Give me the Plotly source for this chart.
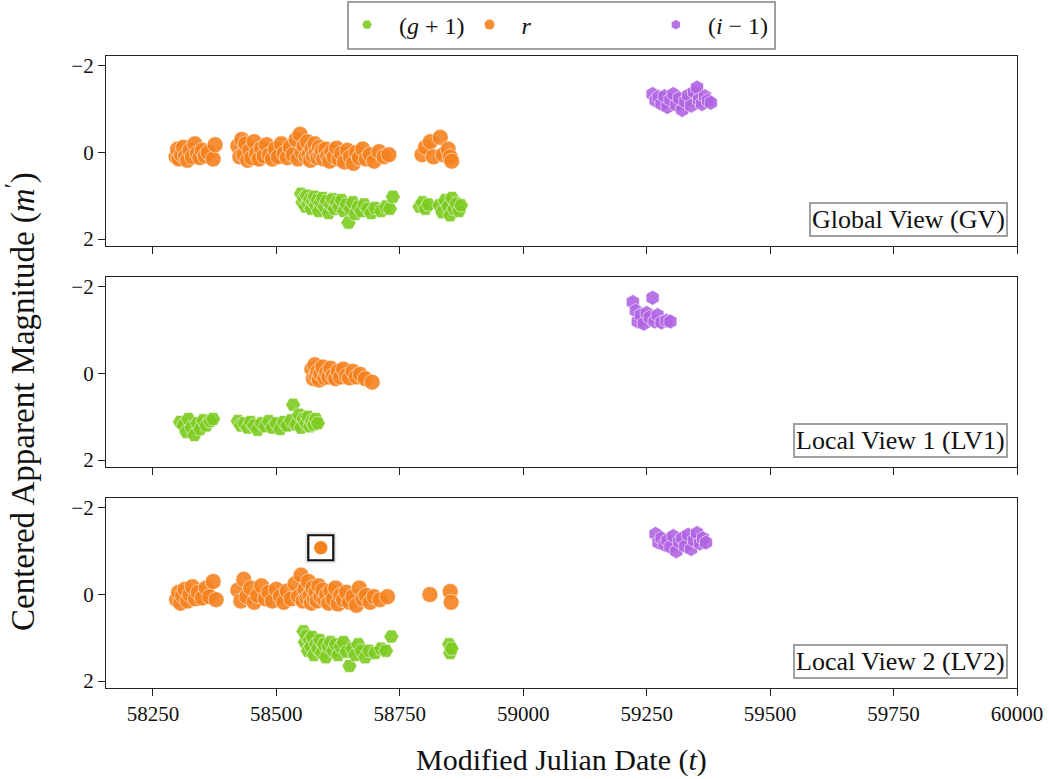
import plotly.graph_objects as go

# ---------------- data ----------------
# Panel 1: Global View (GV)
gv_r_t = [58297, 58300, 58303, 58308, 58312, 58316, 58320, 58325, 58330, 58335, 58340, 58345, 58350, 58356, 58362, 58372, 58376,
          58422, 58426, 58430, 58434, 58438, 58442, 58446, 58450, 58455, 58460, 58465, 58470, 58475, 58480, 58486, 58492, 58498,
          58504, 58510, 58516, 58522, 58528, 58534, 58540, 58544, 58548, 58552, 58556, 58560, 58563, 58566, 58569, 58572, 58575,
          58578, 58581, 58584, 58587, 58590, 58593, 58596, 58600, 58604, 58608, 58612, 58617, 58622, 58627, 58632, 58638, 58644,
          58650, 58656, 58662, 58668, 58675, 58682, 58690, 58698, 58708, 58718, 58728,
          58795, 58802, 58812, 58818, 58832, 58838, 58848, 58852, 58855]
gv_r_m = [0.10, -0.08, 0.15, 0.05, -0.12, 0.08, 0.18, -0.05, 0.10, -0.20, 0.02, 0.12, -0.05, 0.08, 0.00, 0.15, -0.18,
          -0.15, 0.10, -0.30, 0.05, -0.20, 0.18, -0.05, 0.12, -0.25, 0.02, 0.15, -0.10, 0.08, -0.18, 0.05, 0.15, -0.08,
          0.10, -0.20, 0.02, 0.12, -0.12, 0.05, -0.30, 0.15, -0.42, 0.00, -0.15, 0.10, -0.25, 0.05, 0.18, -0.10, 0.08,
          -0.20, 0.00, 0.12, -0.12, 0.05, -0.05, 0.15, -0.08, 0.08, 0.20, -0.02, 0.10, -0.10, 0.15, 0.02, 0.22, -0.05,
          0.10, 0.25, 0.00, 0.12, -0.08, 0.15, 0.05, 0.20, -0.02, 0.10, 0.05,
          0.05, -0.12, -0.25, 0.10, -0.35, 0.05, -0.08, 0.10, 0.20]
gv_g_t = [58550, 58553, 58556, 58559, 58562, 58565, 58568, 58571, 58574, 58577, 58580, 58583, 58586, 58590, 58594, 58598,
          58602, 58606, 58610, 58614, 58618, 58622, 58627, 58632, 58637, 58642, 58646, 58650, 58655, 58660, 58666, 58672,
          58678, 58685, 58692, 58700, 58712, 58722, 58730, 58736,
          58790, 58796, 58802, 58808, 58830, 58836, 58842, 58848, 58852, 58856, 58860, 58865, 58870, 58874]
gv_g_m = [0.95, 1.15, 1.05, 1.25, 1.00, 1.18, 1.08, 1.30, 1.12, 1.02, 1.22, 1.10, 1.35, 1.15, 1.05, 1.25,
          1.12, 1.40, 1.20, 1.08, 1.30, 1.15, 1.25, 1.10, 1.35, 1.20, 1.62, 1.30, 1.15, 1.42, 1.25, 1.35,
          1.20, 1.30, 1.40, 1.28, 1.35, 1.25, 1.30, 1.02,
          1.25, 1.15, 1.30, 1.20, 1.22, 1.38, 1.10, 1.25, 1.45, 1.05, 1.30, 1.18, 1.35, 1.22]
gv_i_t = [59262, 59268, 59274, 59280, 59286, 59292, 59298, 59304, 59310, 59316, 59322, 59328, 59334, 59340, 59346,
          59352, 59356, 59362, 59368, 59374, 59380]
gv_i_m = [-1.35, -1.20, -1.28, -1.12, -1.30, -1.05, -1.22, -1.35, -1.10, -1.25, -0.98, -1.18, -1.32, -1.08, -1.40,
          -1.50, -1.22, -1.12, -1.30, -1.20, -1.15]

# Panel 2: Local View 1 (LV1)
lv1_g_t = [58305, 58312, 58318, 58322, 58328, 58334, 58340, 58346, 58352, 58358, 58366, 58372,
           58422, 58428, 58435, 58442, 58448, 58455, 58462, 58470, 58478, 58485, 58492, 58500, 58508, 58515,
           58522, 58530, 58534, 58540, 58546, 58550, 58555, 58560, 58564, 58568, 58572, 58576, 58580, 58584]
lv1_g_m = [1.12, 1.20, 1.35, 1.05, 1.25, 1.42, 1.15, 1.28, 1.08, 1.20, 1.10, 1.05,
           1.10, 1.20, 1.15, 1.25, 1.12, 1.20, 1.30, 1.15, 1.22, 1.10, 1.25, 1.15, 1.28, 1.12,
           1.20, 1.08, 0.72, 1.18, 0.95, 1.25, 1.05, 1.15, 1.00, 1.22, 1.10, 1.18, 1.05, 1.15]
lv1_r_t = [58572, 58575, 58578, 58581, 58584, 58587, 58590, 58594, 58598, 58602, 58606, 58610, 58615, 58620,
           58625, 58630, 58636, 58642, 58648, 58655, 58662, 58670, 58680, 58694]
lv1_r_m = [-0.10, 0.12, -0.20, 0.05, -0.05, 0.15, 0.00, -0.15, 0.10, -0.02, 0.08, -0.12, 0.05, 0.12,
           -0.05, 0.08, -0.10, 0.05, 0.10, -0.05, 0.08, 0.02, 0.12, 0.20]
lv1_i_t = [59222, 59228, 59232, 59238, 59244, 59250, 59256, 59262, 59266, 59272, 59280, 59290, 59298]
lv1_i_m = [-1.65, -1.45, -1.20, -1.35, -1.15, -1.40, -1.30, -1.75, -1.20, -1.35, -1.18, -1.22, -1.20]

# Panel 3: Local View 2 (LV2)
lv2_r_t = [58298, 58302, 58306, 58310, 58315, 58320, 58325, 58330, 58336, 58342, 58350, 58358, 58365, 58372, 58378,
           58422, 58428, 58434, 58440, 58448, 58455, 58462, 58470, 58478, 58485, 58492, 58500, 58508, 58515, 58522,
           58530, 58538, 58545, 58550, 58554, 58558, 58562, 58565, 58568, 58571, 58574, 58577, 58580, 58583, 58586,
           58590, 58594, 58598, 58602, 58606, 58610, 58615, 58620, 58625, 58630, 58636, 58642, 58648, 58655, 58662,
           58668, 58675, 58682, 58690, 58698, 58710, 58725,
           58811, 58852, 58854]
lv2_r_m = [0.12, -0.05, 0.20, 0.02, -0.12, 0.15, 0.00, -0.18, 0.10, -0.05, 0.08, -0.15, 0.05, -0.30, 0.12,
           -0.10, 0.15, -0.35, 0.05, -0.15, 0.18, 0.02, -0.20, 0.10, -0.05, 0.15, -0.12, 0.05, 0.18, -0.08,
           0.10, -0.25, 0.05, -0.45, 0.15, -0.12, 0.08, -0.30, 0.02, 0.20, -0.15, 0.10, -0.05, 0.15, -0.20,
           0.05, -0.10, 0.12, 0.00, 0.20, -0.08, 0.10, -0.15, 0.22, 0.02, 0.12, -0.05, 0.18, 0.05, 0.25,
           -0.15, 0.10, 0.02, 0.18, 0.05, 0.12, 0.05,
           0.00, -0.07, 0.18]
lv2_outlier_t = [58590]
lv2_outlier_m = [-1.08]
lv2_g_t = [58555, 58558, 58561, 58564, 58567, 58570, 58573, 58576, 58580, 58584, 58588, 58592, 58596, 58600,
           58605, 58610, 58615, 58620, 58625, 58630, 58636, 58642, 58648, 58654, 58660, 58666, 58672, 58680,
           58688, 58700, 58712, 58722, 58733, 58850, 58852, 58855]
lv2_g_m = [0.85, 1.10, 0.95, 1.30, 1.05, 1.20, 0.98, 1.40, 1.15, 1.25, 1.05, 1.35, 1.15, 1.45,
           1.20, 1.10, 1.30, 1.15, 1.40, 1.20, 1.10, 1.32, 1.65, 1.25, 1.40, 1.15, 1.30, 1.45,
           1.30, 1.35, 1.25, 1.30, 0.97, 1.15, 1.35, 1.25]
lv2_i_t = [59268, 59274, 59280, 59286, 59292, 59298, 59304, 59310, 59316, 59322, 59328, 59334, 59340, 59346,
           59352, 59358, 59364, 59370]
lv2_i_m = [-1.40, -1.20, -1.30, -1.15, -1.25, -1.10, -1.35, -1.00, -1.22, -1.30, -1.12, -1.38, -1.05, -1.25,
           -1.42, -1.18, -1.30, -1.20]

panel_labels = ["Global View (GV)", "Local View 1 (LV1)", "Local View 2 (LV2)"]
x_ticks = [58250, 58500, 58750, 59000, 59250, 59500, 59750, 60000]
x_tick_labels = ["58250", "58500", "58750", "59000", "59250", "59500", "59750", "60000"]
y_ticks = [-2, 0, 2]
y_tick_labels = ["−2", "0", "2"]

# ---------------- styling ----------------
GREEN = "#7dcc1f"
ORANGE = "#f5821f"
PURPLE = "#b164e3"
FONT = "'Liberation Serif', 'Times New Roman', Times, serif"
NB = "\u00a0"

W, H = 1049, 779
ML, MR, MT, MB = 106, 32, 56, 90
PH, GAP = 190, 31
plot_h = H - MT - MB
plot_w = W - ML - MR

fig = go.Figure()

band_style = {
    "g": dict(name=NB * 2 + "(<i>g</i> + 1)", color=GREEN, symbol="hexagon2", size=15),
    "r": dict(name=NB * 2 + "<i>r</i>" + NB * 20, color=ORANGE, symbol="circle", size=16),
    "i": dict(name=NB * 2 + "(<i>i</i> − 1)", color=PURPLE, symbol="hexagon", size=15),
}

panels = [
    {"g": (gv_g_t, gv_g_m), "r": (gv_r_t, gv_r_m), "i": (gv_i_t, gv_i_m)},
    {"g": (lv1_g_t, lv1_g_m), "r": (lv1_r_t, lv1_r_m), "i": (lv1_i_t, lv1_i_m)},
    {"g": (lv2_g_t, lv2_g_m), "r": (lv2_r_t, lv2_r_m), "i": (lv2_i_t, lv2_i_m)},
]

for p, pdata in enumerate(panels):
    xa = "x" if p == 0 else f"x{p+1}"
    ya = "y" if p == 0 else f"y{p+1}"
    for band in ["g", "r", "i"]:
        t, m = pdata[band]
        st = band_style[band]
        fig.add_trace(go.Scatter(
            x=t, y=m, mode="markers", xaxis=xa, yaxis=ya,
            name=st["name"], legendgroup=band, showlegend=(p == 0),
            marker=dict(color=st["color"], symbol=st["symbol"], size=st["size"],
                        opacity=0.9, line=dict(color="white", width=0.6)),
        ))

# outlier highlight in LV2 (shadow, box, point)
fig.add_trace(go.Scatter(
    x=lv2_outlier_t, y=lv2_outlier_m, mode="markers", xaxis="x3", yaxis="y3",
    showlegend=False, hoverinfo="skip",
    marker=dict(symbol="square", size=31, color="rgba(0,0,0,0.10)", line=dict(width=0)),
))
fig.add_trace(go.Scatter(
    x=lv2_outlier_t, y=lv2_outlier_m, mode="markers", xaxis="x3", yaxis="y3",
    showlegend=False,
    marker=dict(symbol="square", size=25, color="white",
                line=dict(color="#111111", width=2.2)),
))
fig.add_trace(go.Scatter(
    x=lv2_outlier_t, y=lv2_outlier_m, mode="markers", xaxis="x3", yaxis="y3",
    showlegend=False,
    marker=dict(symbol="circle", size=14, color=ORANGE, line=dict(color="white", width=0.6)),
))

axis_common = dict(showline=True, linecolor="#222222", linewidth=1.3, mirror=True,
                   ticks="outside", ticklen=7, tickwidth=1.2, tickcolor="#222222",
                   showgrid=False, zeroline=False,
                   tickfont=dict(family=FONT, size=21, color="#111111"))

layout = dict(
    width=W, height=H,
    margin=dict(l=ML, r=MR, t=MT, b=MB, autoexpand=False),
    paper_bgcolor="white", plot_bgcolor="white",
    font=dict(family=FONT, color="#111111"),
    showlegend=True,
    legend=dict(orientation="h", x=0.5, xanchor="center",
                y=1 + (MT - 25) / plot_h, yanchor="middle",
                bordercolor="#a0a0a0", borderwidth=2, bgcolor="white",
                font=dict(family=FONT, size=24, color="#111111"),
                itemsizing="constant"),
)

annotations = []
for p in range(3):
    top = 1 - p * (PH + GAP) / plot_h
    bottom = max(0.0, top - PH / plot_h)
    ykey = "yaxis" if p == 0 else f"yaxis{p+1}"
    xkey = "xaxis" if p == 0 else f"xaxis{p+1}"
    layout[ykey] = dict(axis_common, domain=[bottom, top], range=[2.16, -2.23],
                        tickvals=y_ticks, ticktext=y_tick_labels,
                        anchor="x" if p == 0 else f"x{p+1}")
    layout[xkey] = dict(axis_common, range=[58155, 60000], tickvals=x_ticks,
                        ticktext=x_tick_labels,
                        anchor="y" if p == 0 else f"y{p+1}",
                        showticklabels=(p == 2),
                        matches=None if p == 0 else "x")
    annotations.append(dict(
        text=panel_labels[p], xref=("x" if p == 0 else f"x{p+1}") + " domain",
        yref=("y" if p == 0 else f"y{p+1}") + " domain",
        x=0.99, y=0.045, xanchor="right", yanchor="bottom", showarrow=False,
        font=dict(family=FONT, size=26, color="#111111"),
        bordercolor="#a0a0a0", borderwidth=2, borderpad=1, bgcolor="white"))

annotations.append(dict(
    text="Modified Julian Date (<i>t</i>)",
    xref="paper", yref="paper", x=0.5, y=-(760 - (H - MB)) / plot_h,
    xanchor="center", yanchor="middle", showarrow=False,
    font=dict(family=FONT, size=30, color="#111111")))
annotations.append(dict(
    text="Centered Apparent Magnitude (<i>m</i><sup>′</sup>)",
    xref="paper", yref="paper", x=(20 - ML) / plot_w, y=(H - MB - 368) / plot_h, textangle=-90,
    xanchor="center", yanchor="middle", showarrow=False, yshift=-34,
    font=dict(family=FONT, size=33, color="#111111")))
layout["annotations"] = annotations

fig.update_layout(**layout)
fig.write_html("out.html")
